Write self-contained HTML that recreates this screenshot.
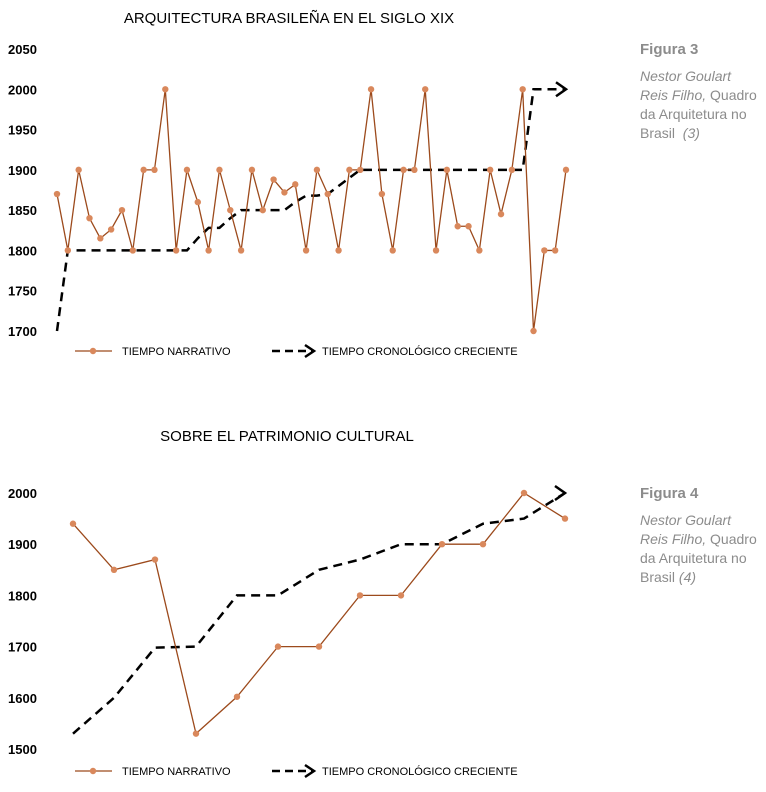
<!DOCTYPE html>
<html><head><meta charset="utf-8"><style>
body{margin:0;background:#fff;width:766px;height:792px;overflow:hidden;font-family:"Liberation Sans",sans-serif}
.note{position:absolute;left:640px;width:120px;color:#8c8c8c;font-size:14px;line-height:19px}
.note b{font-size:15px;display:block;margin-bottom:8px}
</style></head><body>
<div class="note" style="top:40px"><b>Figura 3</b><i>Nestor Goulart Reis Filho,</i> Quadro da Arquitetura no Brasil&nbsp; <i>(3)</i></div>
<div class="note" style="top:484px"><b>Figura 4</b><i>Nestor Goulart Reis Filho,</i> Quadro da Arquitetura no Brasil <i>(4)</i></div>
<svg id="s" width="766" height="792" style="position:absolute;left:0;top:0"></svg>
<script>
const topNarr=[1870,1800,1900,1840,1815,1826,1850,1800,1900,1900,2000,1800,1900,1860,1800,1900,1850,1800,1900,1850,1888,1872,1882,1800,1900,1870,1800,1900,1900,2000,1870,1800,1900,1900,2000,1800,1900,1830,1830,1800,1900,1845,1900,2000,1700,1800,1800,1900];
const topChron=[1700,1800,1800,1800,1800,1800,1800,1800,1800,1800,1800,1800,1800,1815,1828,1828,1840,1850,1850,1850,1850,1850,1860,1868,1868,1870,1880,1890,1900,1900,1900,1900,1900,1900,1900,1900,1900,1900,1900,1900,1900,1900,1900,1900,2000,2000,2000,2000];
const topTicks=[1700,1750,1800,1850,1900,1950,2000,2050];
const botNarr=[1940,1850,1870,1530,1602,1700,1700,1800,1800,1900,1900,2000,1950];
const botChron=[1530,1600,1698,1700,1800,1800,1850,1870,1900,1900,1940,1950,2000];
const botTicks=[1500,1600,1700,1800,1900,2000];
const NS="http://www.w3.org/2000/svg",svg=document.getElementById('s');
function mk(t,a,txt){const e=document.createElementNS(NS,t);for(const k in a)e.setAttribute(k,a[k]);if(txt!=null)e.textContent=txt;svg.appendChild(e);return e;}
function chart(o){
 const y=v=>o.y0+(v-o.v0)*(o.y1-o.y0)/(o.v1-o.v0);
 const x=i=>o.x0+i*(o.x1-o.x0)/(o.n-1);
 let t=mk('text',{x:o.tx,y:o.ty,'font-size':15,'text-anchor':'middle',fill:'#000'},o.title);
 
 o.ticks.forEach(v=>{const e=mk('text',{x:8,y:y(v)+5,'font-size':13,'font-weight':'bold',fill:'#000'},v);
  });
 const cp=o.chron.map((v,i)=>x(i)+','+y(v)).join(' ');
 const cl=mk('polyline',{points:cp,fill:'none',stroke:'#000','stroke-width':2.5,'stroke-dasharray':'9,6'});
 
 const lx=x(o.n-1),ly=y(o.chron[o.n-1]);
 const ar=mk('polyline',{points:(lx-10)+','+(ly-7)+' '+lx+','+ly+' '+(lx-10)+','+(ly+7),fill:'none',stroke:'#000','stroke-width':2.5});
 
 const np=o.narr.map((v,i)=>x(i)+','+y(v)).join(' ');
 const nl=mk('polyline',{points:np,fill:'none',stroke:'#9c4a1c','stroke-width':1.3});
 
 o.narr.forEach((v,i)=>{const c=mk('circle',{cx:x(i),cy:y(v),r:3.2,fill:'#d9885c'});
  });
 const L=o.ly;
 let e=mk('line',{x1:75,y1:L,x2:112,y2:L,stroke:'#9c4a1c','stroke-width':1.3});
 e=mk('circle',{cx:93,cy:L,r:3.2,fill:'#d9885c'});
 e=mk('text',{x:122,y:L+4,'font-size':11,fill:'#000'},'TIEMPO NARRATIVO');
 e=mk('line',{x1:272,y1:L,x2:312,y2:L,stroke:'#000','stroke-width':2.5,'stroke-dasharray':'8,5'});
 e=mk('polyline',{points:'305,'+(L-6)+' 314,'+L+' 305,'+(L+6),fill:'none',stroke:'#000','stroke-width':2.5});
 e=mk('text',{x:322,y:L+4,'font-size':11,fill:'#000'},'TIEMPO CRONOLÓGICO CRECIENTE');
}
chart({id:'top-chart',title:'ARQUITECTURA BRASILEÑA EN EL SIGLO XIX',tx:289,ty:23,narr:topNarr,chron:topChron,ticks:topTicks,n:topNarr.length,x0:57,x1:566,v0:1700,v1:2050,y0:331,y1:49,ly:351});
chart({id:'bottom-chart',title:'SOBRE EL PATRIMONIO CULTURAL',tx:287,ty:441,narr:botNarr,chron:botChron,ticks:botTicks,n:botNarr.length,x0:73,x1:565,v0:1500,v1:2000,y0:749,y1:493,ly:771});
</script>
</body></html>
